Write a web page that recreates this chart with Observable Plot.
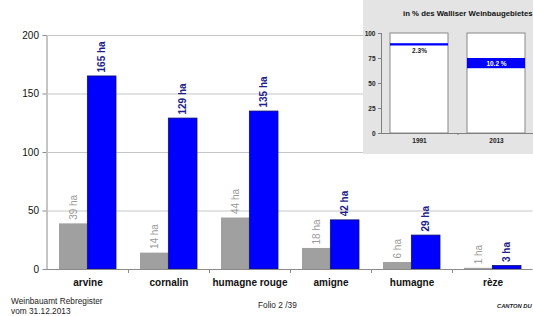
<!DOCTYPE html>
<html><head><meta charset="utf-8">
<script src="https://cdn.jsdelivr.net/npm/d3@7"></script>
<script src="https://cdn.jsdelivr.net/npm/@observablehq/plot@0.6"></script>
<style>
html,body{margin:0;padding:0;background:#fff;}
#wrap{position:relative;width:533px;height:316px;overflow:hidden;font-family:"Liberation Sans",Arial,sans-serif;}
#main{position:absolute;left:0;top:0;}
#inset{position:absolute;left:363px;top:0;width:172px;height:154px;background:#e4e4e4;}
#inset-plot{position:absolute;left:0;top:0;}
#inset-title{position:absolute;left:40px;top:9px;font-weight:bold;font-size:7.8px;white-space:nowrap;color:#111;}
.foot{position:absolute;font-size:8.3px;color:#222;white-space:nowrap;}
#main [aria-label^="y-axis"] text,#main [aria-label^="x-axis"] text{fill:#111;}
#main [aria-label^="x-axis"] text{font-weight:bold;}
#inset-plot [aria-label^="y-axis"] text,#inset-plot [aria-label^="x-axis"] text{fill:#222;font-weight:bold;}
</style>
</head><body>
<div id="wrap">
  <div id="main"></div>
  <div id="inset"><div id="inset-plot"></div><div id="inset-title">in % des Walliser Weinbaugebietes</div></div>
  <div class="foot" style="left:11px;top:296px;">Weinbauamt Rebregister</div>
  <div class="foot" style="left:11px;top:306px;">vom 31.12.2013</div>
  <div class="foot" style="left:258px;top:300px;">Folio 2 /39</div>
  <div class="foot" style="left:497px;top:303px;font-size:5.8px;font-weight:bold;font-style:italic;">CANTON DU</div>
</div>
<script>
// ---- data ----
const categories = ["arvine", "cornalin", "humagne rouge", "amigne", "humagne", "rèze"];
const ha1991 = [39, 14, 44, 18, 6, 1];
const ha2013 = [165, 129, 135, 42, 29, 3];
const yTicks = [0, 50, 100, 150, 200];

const insetYears = ["1991", "2013"];
const insetShare = [2.3, 10.2];
const insetOffset = [87.5, 64.8];
const insetLabels = ["2.3%", "10.2 %"];
const insetTicks = [0, 25, 50, 75, 100];
const insetFull = [100, 100];

// ---- main chart ----
const W = 533, mL = 46.5, mR = 0.5;
const xs = d3.scaleBand().domain(categories).range([mL, W - mR]).paddingInner(0.3).paddingOuter(0.15);
const bw = xs.bandwidth(), step = xs.step();
const rows = categories.map((c, i) => ({cat: c, v1991: ha1991[i], v2013: ha2013[i]}));

const main = Plot.plot({
  width: W, height: 295,
  marginTop: 35, marginBottom: 26, marginLeft: mL, marginRight: mR,
  style: {background: "white", color: "#8a8a8a", fontFamily: "'Liberation Sans', Arial, sans-serif", fontSize: "10px"},
  x: {domain: categories, paddingInner: 0.3, paddingOuter: 0.15, label: null, tickSize: 0, tickPadding: 9},
  y: {domain: [0, 200], ticks: yTicks, label: null, tickSize: 4, tickPadding: 4, line: true},
  marks: [
    Plot.ruleY(yTicks.slice(1), {stroke: "#c6c6c6"}),
    Plot.barY(rows, {x: "cat", y: "v1991", fill: "#a0a0a0", insetRight: bw / 2}),
    Plot.barY(rows, {x: "cat", y: "v2013", fill: "#0000ff", stroke: "#10106e", strokeWidth: 0.8, insetLeft: bw / 2}),
    Plot.ruleY([0], {stroke: "#8a8a8a"}),
    Plot.ruleX(categories.slice(0, -1), {x: d => d, dx: step / 2, y1: 0, y2: 0, insetBottom: -4, stroke: "#8a8a8a"}),
    Plot.text(rows, {x: "cat", y: "v1991", text: d => `${d.v1991} ha`, rotate: -90, textAnchor: "start", dx: -bw / 4, dy: -4, fill: "#9a9a9a", fontSize: 10}),
    Plot.text(rows, {x: "cat", y: "v2013", text: d => `${d.v2013} ha`, rotate: -90, textAnchor: "start", dx: bw / 4, dy: -4, fill: "#1e1e8c", fontSize: 10, fontWeight: "bold"})
  ]
});
document.getElementById("main").appendChild(main);

// ---- inset chart ----
const iRows = insetYears.map((y, i) => ({year: y, full: insetFull[i], lo: insetOffset[i], hi: insetOffset[i] + insetShare[i], label: insetLabels[i]}));
const inset = Plot.plot({
  width: 172, height: 154,
  marginTop: 33, marginBottom: 21, marginLeft: 18, marginRight: 1,
  style: {background: "transparent", color: "#808080", fontFamily: "'Liberation Sans', Arial, sans-serif", fontSize: "6.5px"},
  x: {domain: insetYears, paddingInner: 0.25, paddingOuter: 0.117, label: null, tickSize: 0, tickPadding: 5},
  y: {domain: [0, 100], ticks: insetTicks, label: null, tickSize: 3, tickPadding: 3, line: true},
  marks: [
    Plot.barY(iRows, {x: "year", y: "full", fill: "white", stroke: "#888", strokeWidth: 1}),
    Plot.barY(iRows, {x: "year", y1: "lo", y2: "hi", fill: "#0000ff"}),
    Plot.ruleY([0], {stroke: "#808080"}),
    Plot.ruleX(insetYears.slice(0, -1), {x: d => d, dx: 38.5, y1: 0, y2: 0, insetBottom: -2, stroke: "#808080"}),
    Plot.text(iRows.filter(d => d.year === "1991"), {x: "year", y: "lo", text: "label", dy: 5, fill: "#222", fontWeight: "bold", fontSize: 6.5}),
    Plot.text(iRows.filter(d => d.year === "2013"), {x: "year", y: d => (d.lo + d.hi) / 2, text: "label", fill: "white", fontWeight: "bold", fontSize: 6.5})
  ]
});
document.getElementById("inset-plot").appendChild(inset);
</script>
</body></html>
